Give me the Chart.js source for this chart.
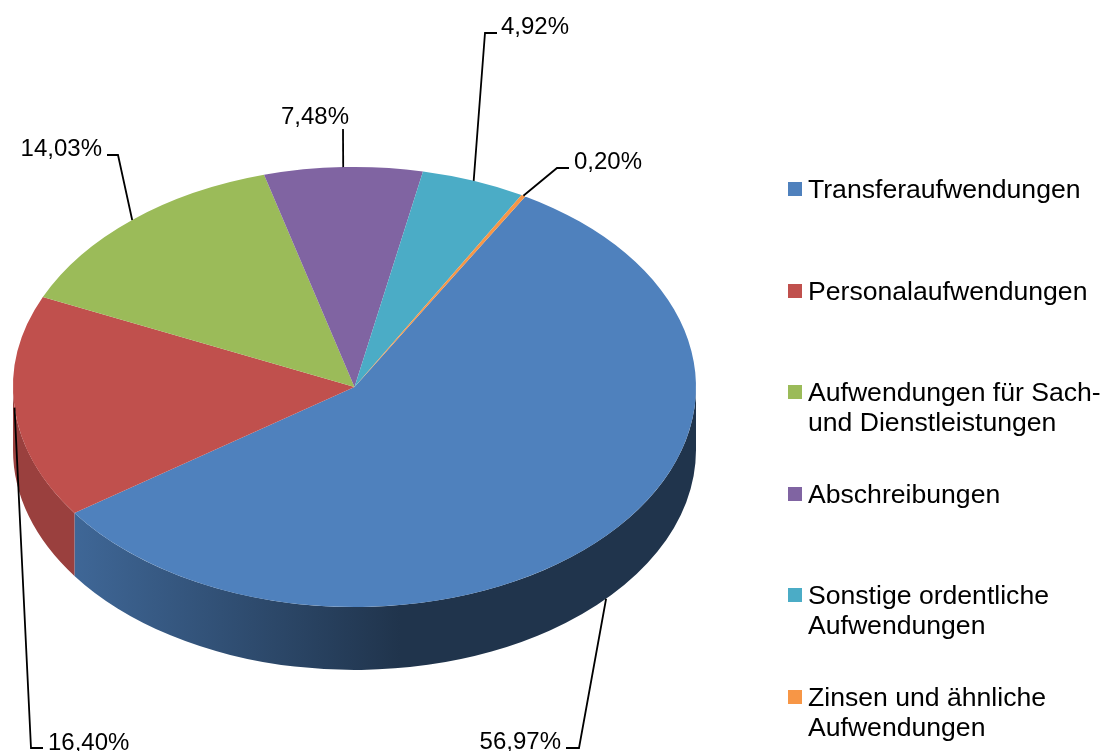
<!DOCTYPE html>
<html>
<head>
<meta charset="utf-8">
<title>Aufwendungen</title>
<script src="https://cdn.jsdelivr.net/npm/chart.js@4"></script>
<style>
  html, body { margin: 0; padding: 0; background: #fff; }
  canvas { display: block; }
</style>
</head>
<body>
<canvas id="pieChart" width="1102" height="751"></canvas>
<script>
var categories = [
    ['Transferaufwendungen'],
    ['Personalaufwendungen'],
    ['Aufwendungen für Sach-', 'und Dienstleistungen'],
    ['Abschreibungen'],
    ['Sonstige ordentliche', 'Aufwendungen'],
    ['Zinsen und ähnliche', 'Aufwendungen']
];
var shares = [56.97, 16.40, 14.03, 7.48, 4.92, 0.20];
var sliceColors = ['#4F81BD', '#C0504D', '#9BBB59', '#8064A2', '#4BACC6', '#F79646'];

// where the leader lines bend and where the percent text sits, same order as shares
var leaderPoints = [
    [[579, 748], [566, 748]],
    [[31, 748], [43, 748]],
    [[118, 155], [107, 155]],
    [[343, 129]],
    [[485, 33], [497, 33]],
    [[557, 168], [569, 168]]
];
var labelSpots = [
    { x: 561, y: 749, align: 'right' },
    { x: 48, y: 750, align: 'left' },
    { x: 102, y: 156, align: 'right' },
    { x: 349, y: 124, align: 'right' },
    { x: 501, y: 34, align: 'left' },
    { x: 574, y: 169, align: 'left' }
];

var FONT = '24px "Liberation Sans", Arial, sans-serif';
var LEGEND_FONT = '26.6px "Liberation Sans", Arial, sans-serif';
var CENTER_Y = 387;
var SQUASH = 220 / 341.5;
var DEPTH = 63;

function shade(hex, f) {
    var n = parseInt(hex.slice(1), 16);
    return 'rgb(' + Math.round((n >> 16) * f) + ',' + Math.round(((n >> 8) & 255) * f) + ',' + Math.round((n & 255) * f) + ')';
}

// tilted look: squash the arcs and put the side wall under them
var tiltPlugin = {
    id: 'tilt',
    beforeDatasetsDraw: function (chart) {
        var ctx = chart.ctx;
        var arcs = chart.getDatasetMeta(0).data;
        var ax = arcs[0].x, ay = arcs[0].y, r = arcs[0].outerRadius, ry = r * SQUASH;

        arcs.forEach(function (arc, i) {
            var a0 = Math.max(arc.startAngle, 0);
            var a1 = Math.min(arc.endAngle, Math.PI);
            if (a1 <= a0) return;
            var grad = ctx.createLinearGradient(ax - r, 0, ax + r, 0);
            grad.addColorStop(0.088, shade(sliceColors[i], 0.8));
            grad.addColorStop(0.567, shade(sliceColors[i], 0.4));
            ctx.beginPath();
            ctx.ellipse(ax, CENTER_Y, r, ry, 0, a0, a1);
            ctx.ellipse(ax, CENTER_Y + DEPTH, r, ry, 0, a1, a0, true);
            ctx.closePath();
            ctx.fillStyle = i === 0 ? grad : shade(sliceColors[i], 0.8);
            ctx.fill();
        });

        ctx.save();
        ctx.translate(0, CENTER_Y);
        ctx.scale(1, SQUASH);
        ctx.translate(0, -ay);
    },
    afterDatasetsDraw: function (chart) {
        chart.ctx.restore();
    }
};

var labelPlugin = {
    id: 'pieLabels',
    afterDraw: function (chart) {
        var ctx = chart.ctx;
        var arcs = chart.getDatasetMeta(0).data;

        ctx.save();
        ctx.font = FONT;
        ctx.textBaseline = 'alphabetic';
        arcs.forEach(function (arc, i) {
            var mid = (arc.startAngle + arc.endAngle) / 2;
            var sx = arc.x + Math.cos(mid) * arc.outerRadius;
            var sy = CENTER_Y + Math.sin(mid) * arc.outerRadius * SQUASH;
            if (i === 0) sy += DEPTH; // the big slice is labelled from the wall

            ctx.beginPath();
            ctx.moveTo(sx, sy);
            leaderPoints[i].forEach(function (p) { ctx.lineTo(p[0], p[1]); });
            ctx.strokeStyle = '#000';
            ctx.lineWidth = 1.8;
            ctx.stroke();

            ctx.fillStyle = '#000';
            ctx.textAlign = labelSpots[i].align;
            ctx.fillText(shares[i].toFixed(2).replace('.', ',') + '%', labelSpots[i].x, labelSpots[i].y);
        });

        // legend: fixed pitch, the box lines up with the first text line
        ctx.font = LEGEND_FONT;
        ctx.textAlign = 'left';
        categories.forEach(function (lines, i) {
            var top = 182 + i * 101.6;
            ctx.fillStyle = sliceColors[i];
            ctx.fillRect(788, Math.round(top), 14, 14);
            ctx.fillStyle = '#000';
            lines.forEach(function (line, j) {
                ctx.fillText(line, 808, Math.round(top) + 16 + j * 30);
            });
        });
        ctx.restore();
    }
};

new Chart(document.getElementById('pieChart'), {
    type: 'pie',
    data: {
        labels: categories,
        datasets: [{
            data: shares,
            backgroundColor: sliceColors,
            borderWidth: 0
        }]
    },
    options: {
        responsive: false,
        animation: false,
        rotation: 30,
        layout: { padding: { left: 13, right: 406, top: 34, bottom: 34 } },
        events: [],
        plugins: {
            legend: { display: false },
            tooltip: { enabled: false },
            title: { display: false }
        }
    },
    plugins: [tiltPlugin, labelPlugin]
});
</script>
</body>
</html>
